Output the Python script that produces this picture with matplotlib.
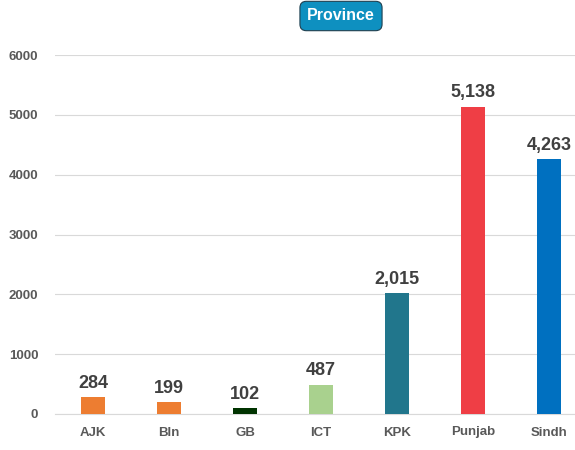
import matplotlib.pyplot as plt

# data
provinces = ["AJK", "Bln", "GB", "ICT", "KPK", "Punjab", "Sindh"]
counts = [284, 199, 102, 487, 2015, 5138, 4263]
colors = ["#ED7D31", "#ED7D31", "#003300", "#A9D18E", "#21768C", "#EF3E45", "#0070C0"]

plt.rcParams['font.family'] = ['Liberation Sans', 'DejaVu Sans']

fig = plt.figure(figsize=(5.75, 4.5), dpi=100)
ax = fig.add_axes([55 / 575, 36 / 450, 520 / 575, 359 / 450])

x = range(len(provinces))
bars = ax.bar(x, counts, width=0.31, color=colors, zorder=3)

# value labels above bars
for b, v in zip(bars, counts):
    ax.text(b.get_x() + b.get_width() / 2, v + 90, f"{v:,}", ha='center', va='bottom',
            fontsize=13, fontweight='bold', color='#404040')

ax.set_xlim(-0.5, -0.5 + 520 / 76)
ax.set_ylim(0, 6000)
ax.set_yticks(range(0, 6001, 1000))
ax.set_xticks(list(x))
ax.set_xticklabels(provinces)
ax.tick_params(axis='both', length=0, labelsize=9.5, labelcolor='#595959')
ax.tick_params(axis='y', pad=12)
ax.tick_params(axis='x', pad=9)
for lbl in ax.get_xticklabels() + ax.get_yticklabels():
    lbl.set_fontweight('bold')
ax.grid(axis='y', color='#D9D9D9', linewidth=0.8, zorder=0)
for s in ['top', 'right', 'left']:
    ax.spines[s].set_visible(False)
ax.spines['bottom'].set_color('#D9D9D9')

fig.text(341 / 575, 1 - 16 / 450, "Province", ha='center', va='center', fontsize=11.5,
         fontweight='bold', color='white',
         bbox=dict(boxstyle='round,pad=0.45,rounding_size=0.4', facecolor='#0E90C0',
                   edgecolor='#1F3F4F', linewidth=0.8))

fig.savefig("out.png", dpi=100)
